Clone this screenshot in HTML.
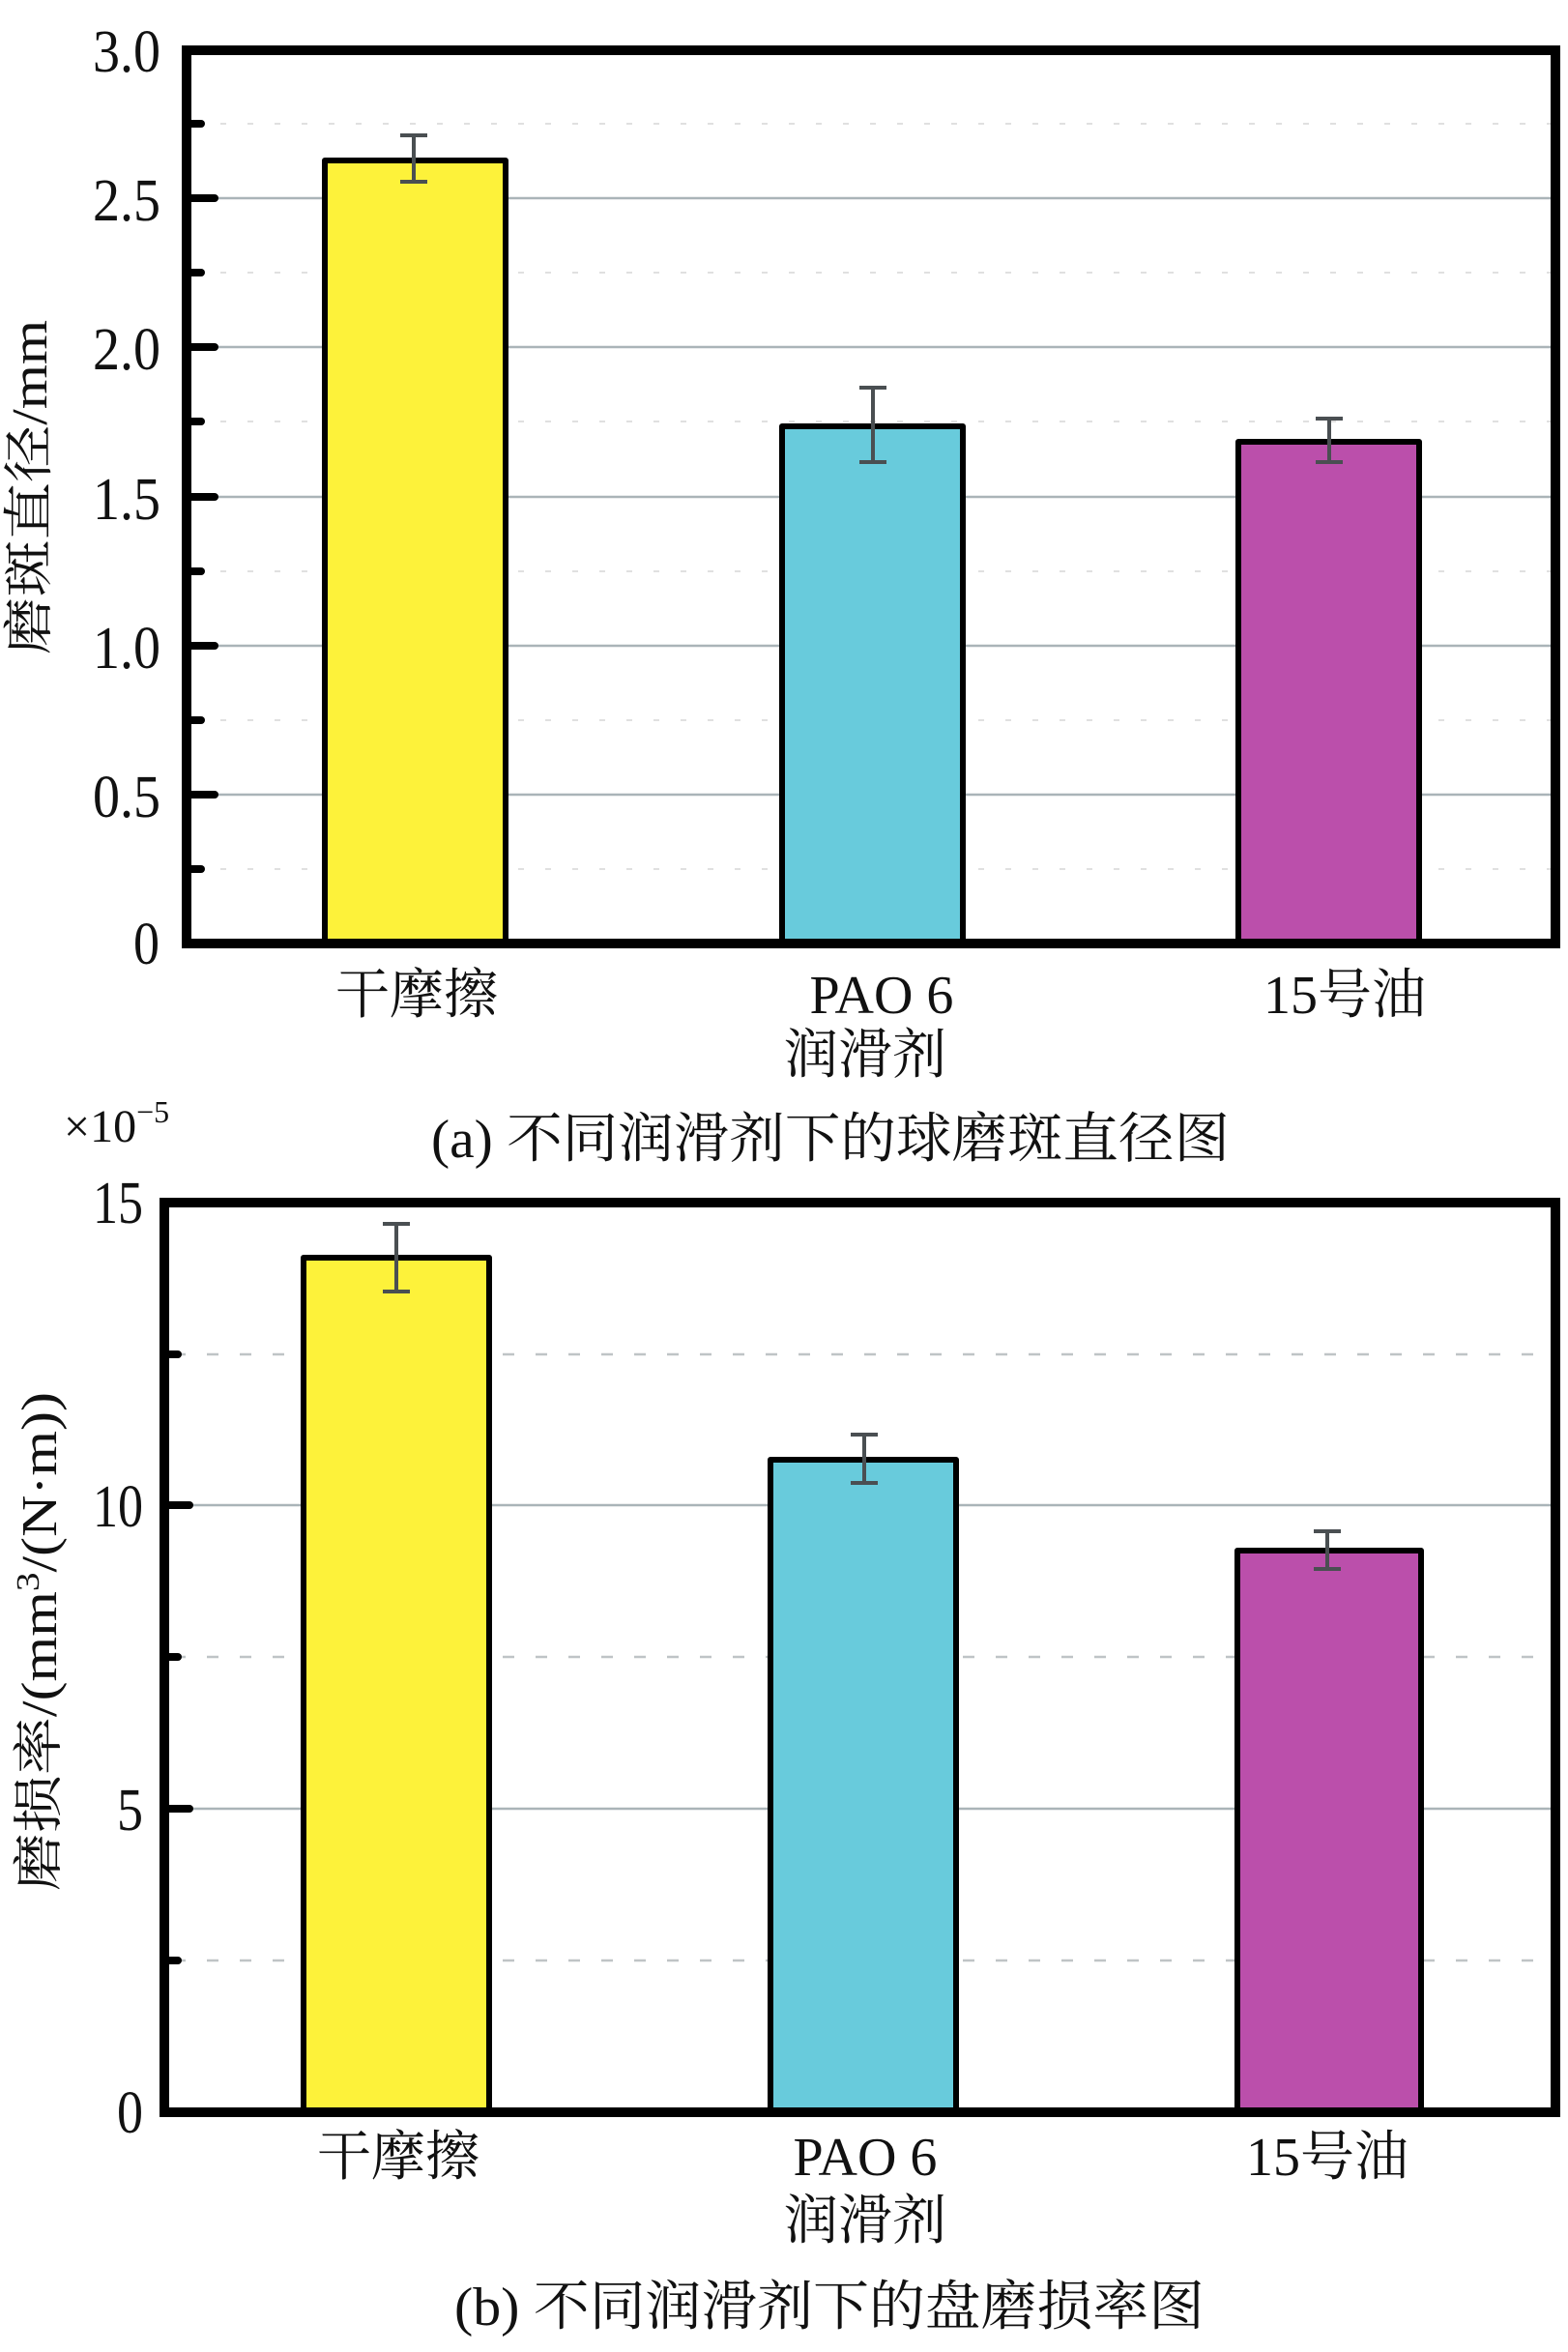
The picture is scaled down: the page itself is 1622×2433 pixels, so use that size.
<!DOCTYPE html>
<html><head><meta charset="utf-8"><style>
html,body{margin:0;padding:0;background:#fff;}
svg{display:block;}
text{font-family:"Liberation Serif","Noto Serif CJK SC",serif;fill:#111;}
</style></head><body>
<svg width="1622" height="2433" viewBox="0 0 1622 2433" xmlns="http://www.w3.org/2000/svg">
<!-- ===== Chart A ===== -->
<g>
  <g stroke="#e0e0e0" stroke-width="2" stroke-dasharray="6 22">
    <line x1="200" y1="128" x2="1610" y2="128"/>
    <line x1="200" y1="282" x2="1610" y2="282"/>
    <line x1="200" y1="436" x2="1610" y2="436"/>
    <line x1="200" y1="591" x2="1610" y2="591"/>
    <line x1="200" y1="745" x2="1610" y2="745"/>
    <line x1="200" y1="899" x2="1610" y2="899"/>
  </g>
  <g stroke="#aab4b8" stroke-width="2.5">
    <line x1="200" y1="205" x2="1610" y2="205"/>
    <line x1="200" y1="359" x2="1610" y2="359"/>
    <line x1="200" y1="514" x2="1610" y2="514"/>
    <line x1="200" y1="668" x2="1610" y2="668"/>
    <line x1="200" y1="822" x2="1610" y2="822"/>
  </g>
  <g stroke="#000" stroke-width="8" stroke-linecap="round">
    <line x1="193" y1="205" x2="222" y2="205"/>
    <line x1="193" y1="359" x2="222" y2="359"/>
    <line x1="193" y1="514" x2="222" y2="514"/>
    <line x1="193" y1="668" x2="222" y2="668"/>
    <line x1="193" y1="822" x2="222" y2="822"/>
    <line x1="193" y1="128" x2="208" y2="128"/>
    <line x1="193" y1="282" x2="208" y2="282"/>
    <line x1="193" y1="436" x2="208" y2="436"/>
    <line x1="193" y1="591" x2="208" y2="591"/>
    <line x1="193" y1="745" x2="208" y2="745"/>
    <line x1="193" y1="899" x2="208" y2="899"/>
  </g>
  <g stroke="#000" stroke-width="6" stroke-linejoin="round">
    <rect x="336" y="166" width="187" height="810" fill="#fdf23a"/>
    <rect x="809" y="441" width="187" height="535" fill="#68cbdc"/>
    <rect x="1281" y="457" width="187" height="519" fill="#bb4fab"/>
  </g>
  <g stroke="#4a4f52" stroke-width="4">
    <line x1="428" y1="140" x2="428" y2="188"/><line x1="414" y1="140" x2="442" y2="140"/><line x1="414" y1="188" x2="442" y2="188"/>
    <line x1="903" y1="401" x2="903" y2="478"/><line x1="889" y1="401" x2="917" y2="401"/><line x1="889" y1="478" x2="917" y2="478"/>
    <line x1="1375" y1="433" x2="1375" y2="478"/><line x1="1361" y1="433" x2="1389" y2="433"/><line x1="1361" y1="478" x2="1389" y2="478"/>
  </g>
  <rect x="193" y="52" width="1416" height="924" fill="none" stroke="#000" stroke-width="10"/>
  <g font-size="62" lengthAdjust="spacingAndGlyphs">
    <text x="96" y="74" textLength="70" lengthAdjust="spacingAndGlyphs">3.0</text>
    <text x="96" y="228" textLength="70" lengthAdjust="spacingAndGlyphs">2.5</text>
    <text x="96" y="382" textLength="70" lengthAdjust="spacingAndGlyphs">2.0</text>
    <text x="96" y="537" textLength="70" lengthAdjust="spacingAndGlyphs">1.5</text>
    <text x="96" y="691" textLength="70" lengthAdjust="spacingAndGlyphs">1.0</text>
    <text x="96" y="845" textLength="70" lengthAdjust="spacingAndGlyphs">0.5</text>
    <text x="138" y="997" textLength="27" lengthAdjust="spacingAndGlyphs">0</text>
  </g>
  <g font-size="56" text-anchor="middle">
    <text x="431" y="1048">干摩擦</text>
    <text x="912" y="1048">PAO 6</text>
    <text x="1391" y="1048">15号油</text>
    <text x="895" y="1110">润滑剂</text>
  </g>
  <text transform="translate(48,504) rotate(-90)" font-size="52" text-anchor="middle" textLength="346" lengthAdjust="spacingAndGlyphs">磨斑直径/mm</text>
</g>
<text x="66" y="1181" font-size="48">×10<tspan font-size="32" dy="-20">−5</tspan></text>
<text x="446" y="1197" font-size="56" textLength="826" lengthAdjust="spacingAndGlyphs">(a) 不同润滑剂下的球磨斑直径图</text>
<!-- ===== Chart B ===== -->
<g>
  <g stroke="#bfc4c6" stroke-width="2.5" stroke-dasharray="12 22">
    <line x1="180" y1="1401" x2="1610" y2="1401"/>
    <line x1="180" y1="1714" x2="1610" y2="1714"/>
    <line x1="180" y1="2028" x2="1610" y2="2028"/>
  </g>
  <g stroke="#aab4b8" stroke-width="2.5">
    <line x1="180" y1="1557" x2="1610" y2="1557"/>
    <line x1="180" y1="1871" x2="1610" y2="1871"/>
  </g>
  <g stroke="#000" stroke-width="8" stroke-linecap="round">
    <line x1="170" y1="1557" x2="196" y2="1557"/>
    <line x1="170" y1="1871" x2="196" y2="1871"/>
    <line x1="170" y1="1401" x2="184" y2="1401"/>
    <line x1="170" y1="1714" x2="184" y2="1714"/>
    <line x1="170" y1="2028" x2="184" y2="2028"/>
  </g>
  <g stroke="#000" stroke-width="6" stroke-linejoin="round">
    <rect x="314" y="1301" width="192" height="884" fill="#fdf23a"/>
    <rect x="797" y="1510" width="192" height="675" fill="#68cbdc"/>
    <rect x="1280" y="1604" width="190" height="581" fill="#bb4fab"/>
  </g>
  <g stroke="#4a4f52" stroke-width="4">
    <line x1="410" y1="1266" x2="410" y2="1336"/><line x1="396" y1="1266" x2="424" y2="1266"/><line x1="396" y1="1336" x2="424" y2="1336"/>
    <line x1="894" y1="1484" x2="894" y2="1534"/><line x1="880" y1="1484" x2="908" y2="1484"/><line x1="880" y1="1534" x2="908" y2="1534"/>
    <line x1="1373" y1="1584" x2="1373" y2="1623"/><line x1="1359" y1="1584" x2="1387" y2="1584"/><line x1="1359" y1="1623" x2="1387" y2="1623"/>
  </g>
  <rect x="170" y="1244" width="1439" height="941" fill="none" stroke="#000" stroke-width="10"/>
  <g font-size="62">
    <text x="96" y="1265" textLength="52" lengthAdjust="spacingAndGlyphs">15</text>
    <text x="96" y="1579" textLength="52" lengthAdjust="spacingAndGlyphs">10</text>
    <text x="121" y="1893" textLength="27" lengthAdjust="spacingAndGlyphs">5</text>
    <text x="121" y="2206" textLength="27" lengthAdjust="spacingAndGlyphs">0</text>
  </g>
  <g font-size="56" text-anchor="middle">
    <text x="412" y="2250">干摩擦</text>
    <text x="895" y="2250">PAO 6</text>
    <text x="1373" y="2250">15号油</text>
    <text x="895" y="2316">润滑剂</text>
  </g>
  <text transform="translate(58,1698) rotate(-90)" font-size="52" text-anchor="middle" textLength="516" lengthAdjust="spacingAndGlyphs">磨损率/(mm<tspan font-size="34" dy="-18">3</tspan><tspan dy="18">/(N·m))</tspan></text>
</g>
<text x="470" y="2405" font-size="56" textLength="776" lengthAdjust="spacingAndGlyphs">(b) 不同润滑剂下的盘磨损率图</text>
</svg>
</body></html>
